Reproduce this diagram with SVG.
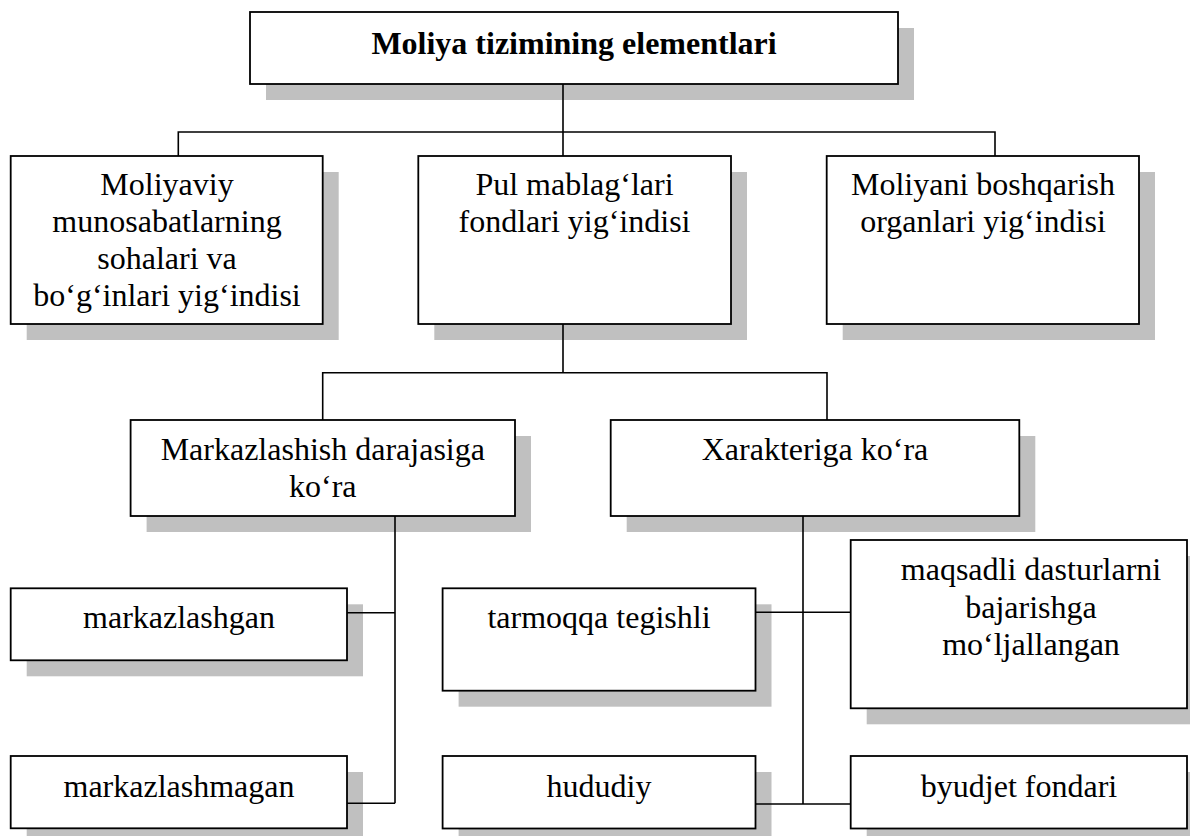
<svg xmlns="http://www.w3.org/2000/svg" width="1190" height="836" viewBox="0 0 1190 836" font-family="'Liberation Serif', 'Times New Roman', Times, serif">
<style>
.sh{fill:#c0c0c0;stroke:none}
.bx{fill:#fff;stroke:#000;stroke-width:1.8}
.t{font-family:'Liberation Serif','Times New Roman',Times,serif;font-size:32px;fill:#000;text-anchor:middle}
.b{font-weight:bold}
.c{fill:none;stroke:#000;stroke-width:1.6}
</style>
<rect width="1190" height="836" fill="#fff"/>
<g id="n-top">
<rect class="sh" x="266" y="28" width="648" height="72"/>
<rect class="bx" x="250" y="12" width="648" height="72"/>
<text class="t b" x="574" y="54">Moliya tizimining elementlari</text>
</g>
<g id="n-soha">
<rect class="sh" x="26.7" y="172" width="312" height="168"/>
<rect class="bx" x="10.7" y="156" width="312" height="168"/>
<text class="t" x="167" y="195">Moliyaviy</text>
<text class="t" x="167" y="232">munosabatlarning</text>
<text class="t" x="167" y="269">sohalari va</text>
<text class="t" x="167" y="306">bo‘g‘inlari yig‘indisi</text>
</g>
<g id="n-pul">
<rect class="sh" x="434.3" y="172" width="312.7" height="168"/>
<rect class="bx" x="418.3" y="156" width="312.7" height="168"/>
<text class="t" x="574.5" y="195">Pul mablag‘lari</text>
<text class="t" x="574.5" y="232">fondlari yig‘indisi</text>
</g>
<g id="n-organ">
<rect class="sh" x="842.7" y="172" width="312.3" height="168"/>
<rect class="bx" x="826.7" y="156" width="312.3" height="168"/>
<text class="t" x="983" y="195">Moliyani boshqarish</text>
<text class="t" x="983" y="232">organlari yig‘indisi</text>
</g>
<g id="n-markaz">
<rect class="sh" x="146.6" y="436" width="384.4" height="96"/>
<rect class="bx" x="130.6" y="420" width="384.4" height="96"/>
<text class="t" x="322.8" y="460">Markazlashish darajasiga</text>
<text class="t" x="322.8" y="497">ko‘ra</text>
</g>
<g id="n-xarakter">
<rect class="sh" x="626.7" y="436" width="408.6" height="96"/>
<rect class="bx" x="610.7" y="420" width="408.6" height="96"/>
<text class="t" x="815" y="460">Xarakteriga ko‘ra</text>
</g>
<g id="n-markazlashgan">
<rect class="sh" x="26.7" y="604.3" width="336.3" height="72"/>
<rect class="bx" x="10.7" y="588.3" width="336.3" height="72"/>
<text class="t" x="179" y="628.3">markazlashgan</text>
</g>
<g id="n-markazlashmagan">
<rect class="sh" x="26.7" y="772" width="336.3" height="72.3"/>
<rect class="bx" x="10.7" y="756" width="336.3" height="72.3"/>
<text class="t" x="179" y="796.7">markazlashmagan</text>
</g>
<g id="n-tarmoq">
<rect class="sh" x="458.6" y="604.3" width="312.9" height="102.4"/>
<rect class="bx" x="442.6" y="588.3" width="312.9" height="102.4"/>
<text class="t" x="599" y="628.3">tarmoqqa tegishli</text>
</g>
<g id="n-maqsad">
<rect class="sh" x="866.7" y="556" width="336.3" height="168.3"/>
<rect class="bx" x="850.7" y="540" width="336.3" height="168.3"/>
<text class="t" x="1031" y="580">maqsadli dasturlarni</text>
<text class="t" x="1031" y="617.5">bajarishga</text>
<text class="t" x="1031" y="655">mo‘ljallangan</text>
</g>
<g id="n-hudud">
<rect class="sh" x="458.6" y="772" width="312.9" height="72.5"/>
<rect class="bx" x="442.6" y="756" width="312.9" height="72.5"/>
<text class="t" x="599" y="796.7">hududiy</text>
</g>
<g id="n-byudjet">
<rect class="sh" x="866.7" y="772" width="336.3" height="72.5"/>
<rect class="bx" x="850.7" y="756" width="336.3" height="72.5"/>
<text class="t" x="1019" y="796.7">byudjet fondari</text>
</g>
<g id="connectors">
<path class="c" d="M563 84V132M178.3 156V132H995V156M563 132V156"/>
<path class="c" d="M563 324V372.7M322.7 420V372.7H827V420"/>
<path class="c" d="M395 516V803.3M347 612.7H395M347 803.3H395"/>
<path class="c" d="M803 516V804M755.5 612.3H850.7M755.5 804H850.7"/>
</g>
</svg>
